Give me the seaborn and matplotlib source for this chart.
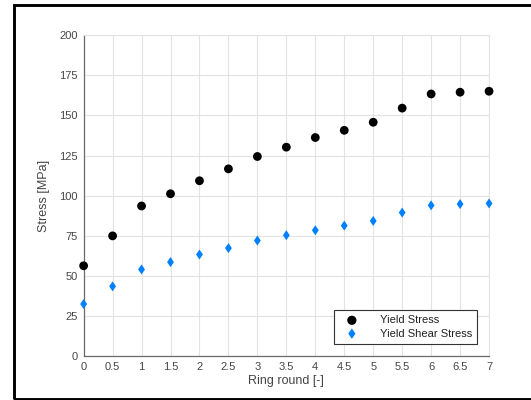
import matplotlib
matplotlib.use("Agg")
import matplotlib.pyplot as plt
import matplotlib.patches as mpatches
import seaborn as sns
import pandas as pd

ring_round = [0, 0.5, 1, 1.5, 2, 2.5, 3, 3.5, 4, 4.5, 5, 5.5, 6, 6.5, 7]
yield_stress = [56.4, 75.0, 93.6, 101.2, 109.3, 116.7, 124.4, 130.2, 136.2,
                140.7, 145.7, 154.5, 163.3, 164.4, 165.0]
yield_shear_stress = [32.6, 43.6, 54.1, 58.7, 63.4, 67.4, 72.1, 75.4, 78.5,
                      81.4, 84.3, 89.5, 94.0, 94.8, 95.2]
x_ticks = [0, 0.5, 1, 1.5, 2, 2.5, 3, 3.5, 4, 4.5, 5, 5.5, 6, 6.5, 7]
x_tick_labels = ["0", "0.5", "1", "1.5", "2", "2.5", "3", "3.5", "4", "4.5",
                 "5", "5.5", "6", "6.5", "7"]
y_ticks = [0, 25, 50, 75, 100, 125, 150, 175, 200]

sns.set_theme(style="white")
plt.rcParams['font.family'] = ['Liberation Sans', 'DejaVu Sans']

df1 = pd.DataFrame({"x": ring_round, "y": yield_stress})
df2 = pd.DataFrame({"x": ring_round, "y": yield_shear_stress})

fig = plt.figure(figsize=(5.31, 4.0), dpi=100)
ax = fig.add_axes([0.1575, 0.1090, 0.7635, 0.8035])

text_col = "#454545"
grid_col = "#e3e3e3"

ax.set_axisbelow(True)
ax.grid(True, color=grid_col, linewidth=0.8)

diamond = [(0, 1), (0.68, 0), (0, -1), (-0.68, 0), (0, 1)]

sns.scatterplot(data=df1, x="x", y="y", ax=ax, color="black", marker="o",
                s=40, edgecolor="none", label="Yield Stress", clip_on=False, zorder=3)
sns.scatterplot(data=df2, x="x", y="y", ax=ax, color="#0080ff", marker=diamond,
                s=52, edgecolor="none", label="Yield Shear Stress", clip_on=False, zorder=3)

ax.set_xlim(0, 7)
ax.set_ylim(0, 200)
ax.set_xticks(x_ticks)
ax.set_xticklabels(x_tick_labels)
ax.set_yticks(y_ticks)

ax.tick_params(axis="both", direction="in", length=3, width=0.8, color="#555555",
               labelsize=8, labelcolor=text_col, pad=4)
for side in ["left", "bottom"]:
    ax.spines[side].set_color("#6a6a6a")
    ax.spines[side].set_linewidth(0.9)
for side in ["top", "right"]:
    ax.spines[side].set_color(grid_col)
    ax.spines[side].set_linewidth(0.8)

ax.set_xlabel("Ring round [-]", fontsize=9, color=text_col, labelpad=2)
ax.set_ylabel("Stress [MPa]", fontsize=9, color=text_col, labelpad=7)

leg = ax.legend(loc="lower right", bbox_to_anchor=(0.970, 0.040), borderaxespad=0,
                fancybox=False, framealpha=1, edgecolor="#333333", fontsize=8,
                handletextpad=1.3, borderpad=0.45, labelspacing=0.3,
                handlelength=2.4, markerscale=1.05)
leg.get_frame().set_linewidth(0.8)
for t in leg.get_texts():
    t.set_color("#222222")

frame = mpatches.Rectangle((14.3 / 531, 1.0 / 400), 1.1, 1 - 4.5 / 400 - 1.0 / 400,
                           transform=fig.transFigure, fill=False,
                           edgecolor="black", linewidth=2.1, zorder=10)
fig.patches.append(frame)

fig.savefig("out.png", dpi=100)
